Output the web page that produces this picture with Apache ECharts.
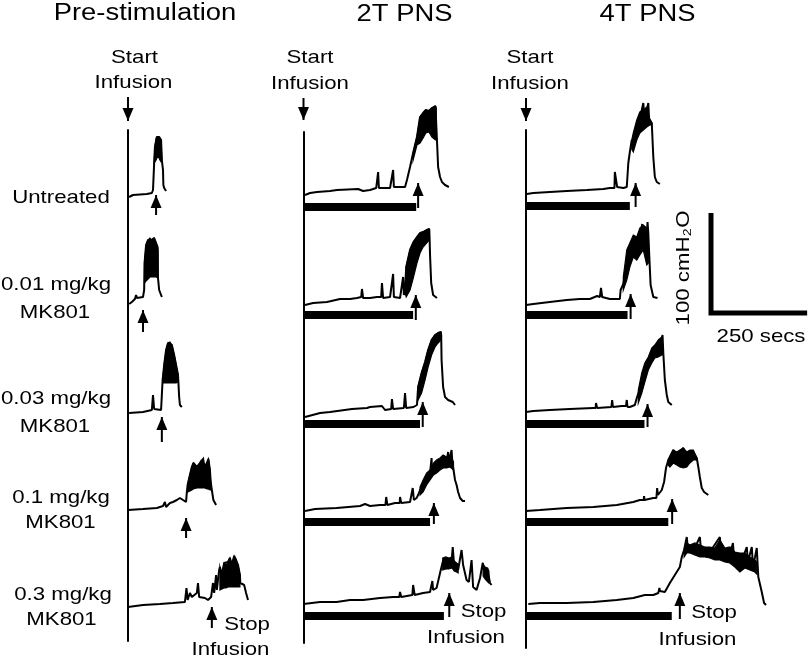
<!DOCTYPE html>
<html>
<head>
<meta charset="utf-8">
<script src="https://cdn.jsdelivr.net/npm/echarts@6/dist/echarts.min.js"></script>
<style>html,body{margin:0;padding:0;background:#fff}#c{width:809px;height:660px}</style>
</head>
<body>
<div id="c"></div>
<script>
// ---------------- DATA (time in s from start of infusion, pressure in cmH2O) ----------------
const columnTitles = ['Pre-stimulation', '2T PNS', '4T PNS'];
const rowLabels = [['Untreated'], ['0.01 mg/kg', 'MK801'], ['0.03 mg/kg', 'MK801'], ['0.1 mg/kg', 'MK801'], ['0.3 mg/kg', 'MK801']];
const startLabel = ['Start', 'Infusion'];
const stopLabel = ['Stop', 'Infusion'];
const scaleBar = { pressure: 100, time: 250 };
const scaleLabels = ['100 cmH\u2082O', '250 secs'];

// Pre-stimulation traces
const preUntreated = [[3,3],[13,5],[49,6],[62,7],[65,10],[68,37],[70,53],[75,63],[81,63],[86,60],[88,40],[91,30],[92,15],[94,12],[99,9]];
const preUntreatedBand = [[68,37,37],[70,38,53],[73,40,61],[75,42,63],[78,43,63],[81,42,63],[83,40,62],[86,38,60],[88,38,40]];
const pre001 = [[3,3],[10,5],[18,8],[21,12],[23,9],[39,10],[42,17],[43,44],[47,62],[52,67],[57,69],[62,67],[68,69],[73,64],[77,60],[78,29],[81,17],[86,15],[88,10]];
const pre001Band = [[43,24,44],[47,26,62],[52,28,67],[57,30,69],[62,30,67],[68,30,69],[73,30,64],[78,29,57]];
const pre003 = [[3,3],[39,4],[62,6],[65,21],[68,7],[86,6],[88,21],[90,36],[94,51],[99,66],[104,73],[109,74],[114,71],[120,61],[125,51],[130,41],[131,34],[133,19],[135,11],[140,9]];
const pre003Band = [[90,33,36],[94,33,51],[99,33,66],[104,33,73],[109,33,74],[114,33,71],[120,33,61],[125,33,51],[130,34,41]];
const pre01 = [[0,2],[39,3],[75,4],[91,6],[96,10],[99,5],[109,9],[117,10],[127,12],[135,14],[143,12],[151,10],[153,20],[155,27],[161,37],[166,45],[170,49],[179,45],[187,49],[192,52],[196,54],[200,45],[205,49],[209,53],[213,42],[215,30],[218,22],[222,12],[229,7]];
const pre01Band = [[155,20,27],[161,21,37],[166,22,45],[170,23,49],[179,24,45],[187,24,49],[192,24,52],[196,24,54],[200,24,45],[205,23,49],[209,23,53],[213,22,42],[215,22,30]];
const pre03 = [[0,2],[39,4],[83,5],[117,6],[148,7],[152,21],[155,9],[161,16],[166,12],[179,16],[182,26],[185,12],[200,11],[208,9],[216,12],[221,26],[224,16],[229,34],[231,19],[237,39],[239,42],[244,34],[250,46],[255,44],[260,47],[265,51],[270,44],[276,53],[281,49],[286,44],[291,34],[292,26],[302,24],[307,16],[312,9]];
const pre03Band = [[239,19,42],[244,20,34],[250,21,46],[255,21,44],[260,22,47],[265,22,51],[270,22,44],[276,22,53],[281,22,49],[286,22,44],[291,22,34]];
const preStopT = [73, 39, 88, 151, 218];

// 2T PNS traces
const pns2Untreated = [[4,5],[17,7],[35,8],[69,9],[87,10],[142,11],[147,13],[155,9],[173,10],[189,12],[191,12],[194,28],[196,12],[225,12],[230,12],[233,30],[235,13],[264,13],[269,20],[277,33],[285,47],[295,63],[303,83],[311,87],[318,90],[326,89],[334,92],[343,94],[345,92],[347,60],[350,33],[355,23],[360,18],[368,15],[378,13]];
const pns2UntreatedBand = [[285,40,47],[295,55,63],[303,57,83],[311,62,87],[318,67,90],[326,68,89],[334,63,92],[343,60,94],[345,60,92]];
const pns2_001 = [[4,3],[25,5],[61,6],[95,9],[121,9],[139,10],[150,11],[152,19],[155,10],[173,10],[191,11],[202,11],[204,25],[207,10],[212,9],[225,11],[230,11],[233,34],[235,11],[251,10],[256,11],[259,31],[261,13],[264,18],[267,41],[277,58],[286,66],[295,71],[303,75],[311,76],[320,78],[327,79],[328,68],[329,53],[332,25],[337,13],[347,10]];
const pns2_001Band = [[264,15,18],[267,11,41],[277,18,58],[286,31,66],[295,45,71],[303,55,75],[311,61,76],[320,65,78],[327,68,79]];
const pns2_003 = [[4,0],[43,4],[69,5],[126,8],[165,9],[173,10],[204,11],[212,7],[228,8],[230,18],[233,8],[261,9],[264,24],[267,9],[286,10],[295,12],[298,30],[307,44],[316,55],[324,67],[333,77],[342,82],[350,84],[357,85],[358,82],[359,57],[363,30],[368,20],[376,17],[388,15],[394,12]];
const pns2_003Band = [[298,17,30],[307,24,44],[316,37,55],[324,50,67],[333,62,77],[342,70,82],[350,74,84],[357,77,85]];
const pns2_01 = [[4,4],[30,6],[86,7],[147,9],[160,11],[173,9],[199,10],[213,10],[215,18],[218,10],[238,12],[250,12],[251,18],[254,12],[277,13],[281,15],[284,27],[287,15],[294,17],[298,20],[303,25],[311,30],[320,37],[329,42],[333,57],[334,43],[346,49],[355,52],[363,55],[372,53],[376,63],[378,53],[385,65],[387,53],[390,53],[394,35],[398,30],[402,23],[407,17],[414,14],[420,14]];
const pns2_01Band = [[303,20,28],[311,23,35],[320,30,42],[329,35,45],[338,40,52],[346,42,55],[355,45,57],[363,47,60],[372,47,58],[381,48,60],[390,45,53]];
const pns2_03 = [[0,5],[4,6],[43,7],[86,7],[121,9],[155,9],[199,11],[233,12],[249,12],[251,17],[254,12],[283,14],[285,24],[289,14],[311,16],[329,17],[334,18],[335,28],[337,19],[346,21],[355,36],[362,47],[370,50],[378,48],[386,52],[388,62],[391,47],[397,43],[402,39],[411,59],[415,44],[424,29],[430,27],[437,49],[441,22],[450,19],[459,31],[466,46],[469,39],[478,41],[481,34],[485,26],[489,24]];
const pns2_03BandA = [[362,39,51],[370,40,52],[378,40,51],[386,41,52],[392,38,48],[398,37,46],[402,36,45]];
const pns2_03BandB = [[467,33,45],[472,30,42],[477,28,41],[482,26,38]];
const pns2BarEnd = [293, 285, 303, 329, 365];
const pns2StopT = [298, 292, 310, 339, 379];

// 4T PNS traces
const pns4Untreated = [[2,5],[19,6],[62,7],[106,8],[158,9],[201,10],[218,11],[230,11],[231,27],[237,12],[253,11],[262,12],[266,36],[270,47],[275,59],[279,55],[288,70],[296,80],[305,96],[308,80],[314,88],[318,96],[320,80],[322,78],[327,76],[331,42],[335,22],[340,17],[348,15]];
const pns4UntreatedBand = [[275,50,59],[279,47,66],[288,59,79],[296,66,87],[305,69,89],[314,72,92],[322,74,80],[327,74,76]];
const pns4_001 = [[0,3],[19,4],[62,6],[106,8],[140,9],[166,9],[185,12],[192,11],[195,20],[198,11],[201,10],[218,9],[244,9],[246,18],[253,24],[262,43],[270,53],[279,63],[288,60],[296,68],[302,84],[305,70],[314,73],[316,86],[318,75],[321,48],[324,23],[331,11],[342,10]];
const pns4_001Band = [[253,18,31],[262,28,58],[270,41,65],[279,51,73],[288,48,71],[296,53,80],[305,58,83],[314,43,80],[318,45,75]];
const pns4_003 = [[0,5],[19,6],[62,7],[114,8],[175,9],[181,9],[182,14],[185,9],[222,10],[224,17],[226,10],[249,11],[260,11],[262,17],[264,10],[270,10],[283,12],[288,19],[292,21],[301,34],[309,45],[318,54],[327,61],[335,65],[344,69],[351,71],[355,82],[357,64],[361,37],[366,22],[370,15],[379,12]];
const pns4_003Band = [[292,14,27],[301,24,44],[309,35,54],[318,47,60],[327,54,69],[335,59,72],[344,60,77],[353,62,80],[357,62,64]];
const pns4_01 = [[0,4],[36,5],[106,7],[175,8],[236,10],[279,13],[296,15],[306,15],[307,19],[308,15],[331,17],[339,17],[341,27],[343,20],[347,21],[353,25],[359,33],[364,47],[370,55],[374,55],[383,65],[392,57],[400,63],[409,67],[418,57],[426,63],[435,63],[444,57],[448,48],[452,38],[457,27],[463,23],[474,20]];
const pns4_01Band = [[370,50,55],[374,48,58],[383,52,65],[392,50,63],[400,48,65],[409,47,67],[418,48,63],[426,52,65],[435,55,65],[444,55,57]];
const pns4_03 = [[6,5],[36,6],[106,6],[175,7],[236,9],[279,11],[309,14],[314,16],[316,14],[331,14],[344,16],[347,21],[348,18],[361,17],[374,26],[387,34],[400,42],[405,52],[411,59],[418,72],[421,59],[439,61],[452,72],[455,59],[478,57],[504,72],[507,57],[530,54],[538,66],[541,51],[556,43],[574,62],[577,47],[587,62],[590,44],[595,51],[600,61],[604,32],[613,17],[619,6],[624,4]];
const pns4_03Band = [[411,52,59],[418,56,66],[426,56,64],[439,54,66],[452,52,64],[465,52,62],[478,51,62],[491,49,61],[504,49,69],[517,47,61],[530,46,62],[543,42,57],[556,37,56],[569,41,56],[582,39,52],[595,37,49],[600,35,47]];
const pns4BarEnd = [270, 264, 308, 370, 379];
const pns4StopT = [285, 272, 316, 380, 400];

const startInfusionT = 0;

// ---------------- LAYOUT / STYLE ----------------
const SEC_PER_PX = 2.6, CM_PER_PX = 1;
const X_MAX = 650, Y_MIN = -30, Y_MAX = 110;
const COL_X = [128, 303.5, 526];
const COL_LINE_TOP = [130, 132, 130];
const COL_LINE_BOTTOM = [641, 643, 648];
const ZERO_Y = [[200,200,199],[307,308,308],[416,417,417],[512,515,515],[609,609,609]];
const BAR_P = -7;
const STOP_TIP = [[5,-3,-1,-6,2],[17,13,15,12,16],[16,14,13,16,16]];
const STOP_TAIL = [[-15,-25,-26,-26,-19],[-8,-12,-10,-9,-8],[-8,-11,-10,-9,-10]];
const START_TAIL = [103, 102, 101];
const START_TIP = [79, 80, 78];
const FONT = '"Liberation Sans", Arial, Helvetica, sans-serif';
const TRACE_W = 2;

const traces = [
  [preUntreated, pre001, pre003, pre01, pre03],
  [pns2Untreated, pns2_001, pns2_003, pns2_01, pns2_03],
  [pns4Untreated, pns4_001, pns4_003, pns4_01, pns4_03]
];
const bands = [
  [[preUntreatedBand], [pre001Band], [pre003Band], [pre01Band], [pre03Band]],
  [[pns2UntreatedBand], [pns2_001Band], [pns2_003Band], [pns2_01Band], [pns2_03BandA, pns2_03BandB]],
  [[pns4UntreatedBand], [pns4_001Band], [pns4_003Band], [pns4_01Band], [pns4_03Band]]
];
const stopT = [preStopT, pns2StopT, pns4StopT];
const barEnd = [null, pns2BarEnd, pns4BarEnd];

const grids = [], xAxes = [], yAxes = [], series = [];
function addGrid(g, xr, yr, yLine) {
  const gi = grids.length;
  grids.push(Object.assign({ show: false }, g));
  xAxes.push({ gridIndex: gi, type: 'value', min: xr[0], max: xr[1], show: false });
  const ya = { gridIndex: gi, type: 'value', min: yr[0], max: yr[1], show: !!yLine,
    axisTick: { show: false }, axisLabel: { show: false }, splitLine: { show: false } };
  if (yLine) ya.axisLine = { show: true, onZero: false, lineStyle: { color: '#000', width: 2 } };
  yAxes.push(ya);
  return gi;
}
function traceSeries(data, gi) {
  return { type: 'line', xAxisIndex: gi, yAxisIndex: gi, data: data, symbol: 'none', silent: true,
    animation: false, lineStyle: { color: '#000', width: TRACE_W } };
}
function bandSeries(band, gi) {
  return { type: 'custom', coordinateSystem: 'cartesian2d', xAxisIndex: gi, yAxisIndex: gi,
    data: band, silent: true, animation: false,
    renderItem: function (params, api) {
      if (params.dataIndex !== 0) return null;
      const pts = [];
      for (let i = 0; i < band.length; i++) pts.push(api.coord([band[i][0], band[i][2]]));
      for (let i = band.length - 1; i >= 0; i--) pts.push(api.coord([band[i][0], band[i][1]]));
      return { type: 'polygon', shape: { points: pts }, style: { fill: '#000', stroke: '#000', lineWidth: 1.2 } };
    } };
}
function arrowSeries(t, tail, tip, gi, down) {
  return { type: 'line', xAxisIndex: gi, yAxisIndex: gi, silent: true, animation: false, clip: false,
    lineStyle: { color: '#000', width: 2, cap: 'butt' }, itemStyle: { color: '#000' },
    data: [ { value: [t, tail], symbol: 'none' },
            { value: [t, tip], symbol: 'triangle', symbolSize: [11, 13],
              symbolRotate: down ? 180 : 0, symbolOffset: [0, down ? -6.5 : 6.5] } ] };
}
function barSeries(end, gi) {
  return { type: 'line', xAxisIndex: gi, yAxisIndex: gi, silent: true, animation: false, symbol: 'none',
    lineStyle: { color: '#000', width: 8, cap: 'butt' }, data: [[0, BAR_P], [end, BAR_P]] };
}

for (let r = 0; r < 5; r++) {
  for (let c = 0; c < 3; c++) {
    const gi = addGrid({ left: COL_X[c], top: ZERO_Y[r][c] - Y_MAX / CM_PER_PX,
      width: X_MAX / SEC_PER_PX, height: (Y_MAX - Y_MIN) / CM_PER_PX }, [0, X_MAX], [Y_MIN, Y_MAX], false);
    bands[c][r].forEach(b => series.push(bandSeries(b, gi)));
    series.push(traceSeries(traces[c][r], gi));
    if (barEnd[c]) series.push(barSeries(barEnd[c][r], gi));
    series.push(arrowSeries(stopT[c][r], STOP_TAIL[c][r], STOP_TIP[c][r], gi, false));
    if (r === 0) series.push(arrowSeries(startInfusionT, START_TAIL[c], START_TIP[c], gi, true));
  }
}
// vertical time-zero lines for each column
for (let c = 0; c < 3; c++) {
  addGrid({ left: COL_X[c], top: COL_LINE_TOP[c], width: 10, height: COL_LINE_BOTTOM[c] - COL_LINE_TOP[c] }, [0, 1], [0, 1], true);
}
// scale bar
const sg = addGrid({ left: 711, top: 313 - scaleBar.pressure / CM_PER_PX, width: scaleBar.time / SEC_PER_PX,
  height: scaleBar.pressure / CM_PER_PX }, [0, scaleBar.time], [0, scaleBar.pressure], false);
series.push({ type: 'line', xAxisIndex: sg, yAxisIndex: sg, silent: true, animation: false, clip: false, symbol: 'none',
  lineStyle: { color: '#000', width: 5, join: 'miter', cap: 'butt' },
  data: [[0, scaleBar.pressure], [0, 0], [scaleBar.time, 0]] });

// ---------------- TEXT ----------------
function txt(s, x, y, size, sx, rot) {
  return { type: 'text', x: x, y: y, scaleX: sx, rotation: rot || 0, silent: true,
    style: { text: s, fill: '#000', font: size + 'px ' + FONT, fontSize: size, fontFamily: FONT,
      textAlign: 'center', textVerticalAlign: 'middle', align: 'center', verticalAlign: 'middle' } };
}
const graphic = [];
const TITLE_POS = [[145, 14], [404.5, 15], [647.5, 15]];
columnTitles.forEach((t, i) => graphic.push(txt(t, TITLE_POS[i][0], TITLE_POS[i][1], 23, 1.19)));
const START_POS = [[[134.5, 57.5], [133.5, 83]], [[310, 57.5], [310, 84]], [[530, 57.5], [530, 84]]];
START_POS.forEach(p => { graphic.push(txt(startLabel[0], p[0][0], p[0][1], 19, 1.17)); graphic.push(txt(startLabel[1], p[1][0], p[1][1], 19, 1.17)); });
const LABEL_POS = [[[61, 198]], [[56, 285], [55, 313]], [[56, 399], [55, 427]], [[61, 498], [60.5, 523]], [[63, 595], [61.5, 620]]];
rowLabels.forEach((lines, r) => lines.forEach((s, k) => graphic.push(txt(s, LABEL_POS[r][k][0], LABEL_POS[r][k][1], 19, 1.17))));
const STOP_POS = [[[247, 625], [230.5, 650]], [[483.5, 612], [466, 638]], [[714, 613], [697.5, 640]]];
STOP_POS.forEach(p => { graphic.push(txt(stopLabel[0], p[0][0], p[0][1], 19, 1.17)); graphic.push(txt(stopLabel[1], p[1][0], p[1][1], 19, 1.17)); });
graphic.push(txt(scaleLabels[0], 684, 268, 19, 1.17, Math.PI / 2));
graphic.push(txt(scaleLabels[1], 761, 337, 19, 1.17));

const chart = echarts.init(document.getElementById('c'), null, { renderer: 'canvas' });
chart.setOption({ backgroundColor: '#fff', animation: false, grid: grids, xAxis: xAxes, yAxis: yAxes, series: series, graphic: graphic });
</script>
</body>
</html>
